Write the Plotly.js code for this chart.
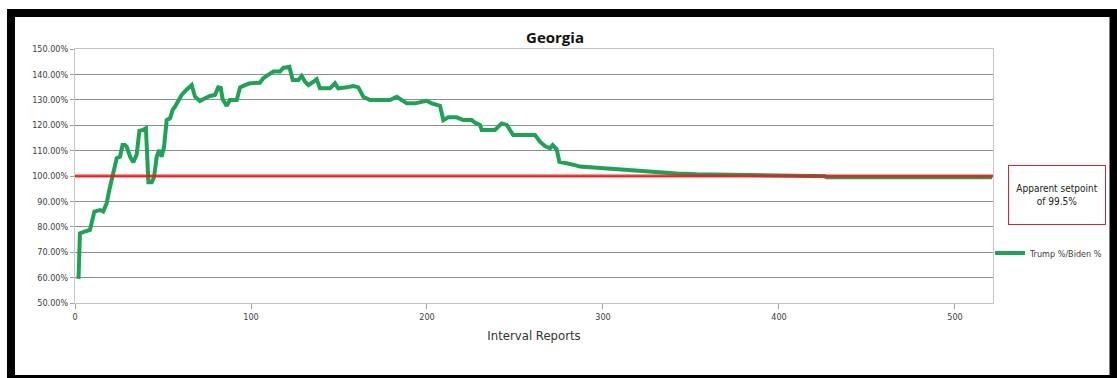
<!DOCTYPE html>
<html>
<head>
<meta charset="utf-8">
<script src="https://cdn.plot.ly/plotly-3.0.1.min.js"></script>
<style>
  html, body { margin: 0; padding: 0; background: #ffffff; }
  #chart { width: 1117px; height: 378px; }
</style>
</head>
<body>
<div id="chart"></div>
<script>
// ---- Data ----
const reportIndex = [
  2, 2.8, 5, 8.5, 11, 14.2, 16, 18, 19.5, 20.8,
  22.3, 23.7, 25.6, 27, 28.4, 29.4, 31.3, 33.1, 35, 36.6,
  38.5, 40.3, 41.7, 43.6, 44.9, 46.4, 47.9, 49.2, 50.6, 52.1,
  54, 55.5, 56.8, 58.7, 60.6, 63.5, 66.3, 68.2, 71, 73.9,
  76.7, 79.5, 81.4, 82.8, 83.9, 86.2, 88, 91.9, 93.8, 96.6,
  99.4, 105, 107, 109.8, 112.7, 116.5, 118.4, 121.8, 123.7, 126.9,
  128.8, 130.7, 132.6, 135.4, 137.3, 139.2, 144.9, 147.7, 149.6, 154.4,
  158.1, 161, 163.8, 167.6, 179, 182.8, 185.6, 188.5, 193.2, 196,
  199.8, 202.7, 207.4, 209.3, 212.1, 216.9, 220.6, 225.4, 227.3, 230.1,
  231.1, 238.6, 242.4, 245.3, 249, 261.4, 264.2, 267, 269.9, 271.4,
  273.7, 275.2, 278.4, 281.3, 284.1, 286.9, 292.6, 298.3, 307.8, 315.3,
  324.8, 332.4, 341.9, 353.2, 362.7, 380, 426, 427, 521
];
const trumpOverBidenPct = [
  59.5, 77.4, 78, 78.8, 86, 86.6, 86, 89.3, 94.5, 98.4,
  103.6, 107, 107.6, 112.2, 112.2, 111.5, 107.6, 105.4, 108.3, 117.8,
  118.1, 118.8, 97.5, 97.5, 99.5, 107.6, 110.2, 107.6, 111.5, 122,
  122.7, 126, 127.3, 129.9, 131.9, 134.1, 135.8, 131.2, 129.5, 130.6,
  131.5, 131.9, 134.9, 134.7, 130.2, 127.6, 129.9, 129.9, 134.9, 135.8,
  136.5, 136.7, 138.5, 139.8, 141.1, 141.1, 142.6, 143, 137.8, 137.8,
  139.4, 137.1, 135.8, 137.1, 138.1, 134.5, 134.5, 136.5, 134.5, 134.9,
  135.4, 134.9, 131.2, 129.9, 129.9, 131.2, 129.9, 128.6, 128.6, 128.9,
  129.6, 128.6, 127.6, 122, 123.1, 123.1, 122, 122, 121, 120.1,
  118.1, 118.1, 120.7, 120.1, 116.1, 116.1, 113.5, 111.8, 110.9, 112.2,
  110.5, 105.6, 105.2, 105, 104.3, 103.7, 103.4, 103, 102.6, 102.1,
  101.7, 101.3, 101, 100.7, 100.6, 100.2, 99.9, 99.5, 99.5
];
const referenceX = [0, 521.6];
const referenceY = [100, 100];
const seriesName = "Trump %/Biden %";
const chartTitle = "Georgia";
const xAxisTitle = "Interval Reports";
const noteText = "Apparent setpoint<br>of 99.5%";

// ---- Layout helpers (pixel -> paper) ----
const W = 1117, H = 378;
const M = { l: 75, r: 124, t: 49, b: 75 };
const PW = W - M.l - M.r, PH = H - M.t - M.b;
const px = x => (x - M.l) / PW;
const py = y => (H - M.b - y) / PH;

const narrow = '"Liberation Sans Narrow", "DejaVu Sans Condensed", Arial Narrow, sans-serif';

const traces = [
  {
    x: reportIndex, y: trumpOverBidenPct, type: 'scatter', mode: 'lines',
    name: seriesName, line: { color: '#1ea256', width: 4 },
    showlegend: true
  },
  {
    x: referenceX, y: referenceY, type: 'scatter', mode: 'lines',
    line: { color: '#f21616', width: 3 }, opacity: 0.85,
    showlegend: false, hoverinfo: 'skip'
  }
];

const layout = {
  width: W, height: H,
  margin: Object.assign({ autoexpand: false }, M),
  paper_bgcolor: '#ffffff', plot_bgcolor: '#ffffff',
  title: {
    text: '<b>' + chartTitle + '</b>',
    x: 555 / W, xanchor: 'center', xref: 'container',
    y: 1 - 38 / H, yanchor: 'middle', yref: 'container',
    font: { family: '"Open Sans", "Liberation Sans", sans-serif', size: 15, color: '#111111' }
  },
  xaxis: {
    range: [0, 521.6], dtick: 100, tick0: 0,
    showgrid: false, zeroline: false,
    showline: true, linecolor: '#c4c4c4', linewidth: 1, mirror: true,
    ticks: 'outside', ticklen: 5, tickcolor: '#a0a0a0',
    tickfont: { family: narrow, size: 9, color: '#404040' },
    title: { text: xAxisTitle, standoff: 10, font: { family: narrow, size: 13, color: '#333333' } }
  },
  yaxis: {
    range: [50, 150], dtick: 10, tick0: 50,
    tickformat: '.2f', ticksuffix: '%',
    showgrid: true, gridcolor: '#8e8e8e', gridwidth: 1,
    zeroline: false,
    showline: true, linecolor: '#c4c4c4', linewidth: 1, mirror: true,
    ticks: 'outside', ticklen: 4, tickcolor: '#a0a0a0',
    tickfont: { family: narrow, size: 9, color: '#404040' }
  },
  legend: {
    xref: 'container', yref: 'container',
    x: 990 / W, xanchor: 'left', y: 1 - 253 / H, yanchor: 'middle',
    bgcolor: 'rgba(0,0,0,0)', borderwidth: 0,
    font: { family: narrow, size: 9, color: '#404040' },
    itemwidth: 30
  },
  annotations: [
    {
      xref: 'paper', yref: 'paper', x: px(1057), y: py(195),
      xanchor: 'center', yanchor: 'middle', showarrow: false,
      text: noteText, align: 'center',
      font: { family: narrow, size: 10, color: '#222222' },
      bordercolor: '#c8283a', borderwidth: 1, borderpad: 4,
      bgcolor: '#ffffff', width: 88, height: 50
    }
  ],
  shapes: [
    {
      type: 'rect', xref: 'paper', yref: 'paper',
      x0: px(11), x1: px(1113.5), y0: py(13), y1: py(379),
      line: { color: '#000000', width: 8 }, fillcolor: 'rgba(0,0,0,0)'
    }
  ],
  showlegend: true
};

Plotly.newPlot('chart', traces, layout, { staticPlot: true, displayModeBar: false });
</script>
</body>
</html>
